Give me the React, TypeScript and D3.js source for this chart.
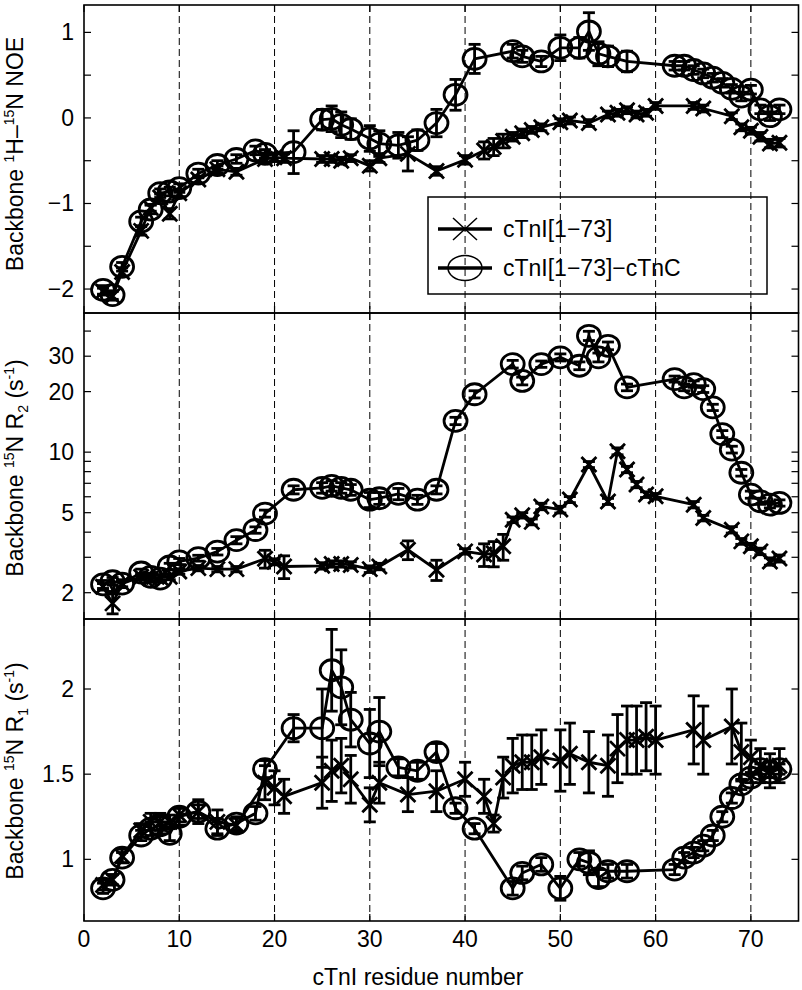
import React from 'react';
import * as d3 from 'd3';

// ---------- data ----------
const freeRes = [2,3,4,6,7,8,9,10,12,14,16,19,20,21,25,26,27,28,30,31,34,37,40,42,43,44,45,46,47,48,50,51,53,55,56,57,58,59,60,64,65,68,69,70,71,72,73];
const freeNOE = [-2.03,-2.08,-1.80,-1.32,-1.05,-0.93,-1.12,-0.88,-0.72,-0.60,-0.63,-0.48,-0.46,-0.47,-0.48,-0.48,-0.50,-0.47,-0.56,-0.47,-0.42,-0.62,-0.49,-0.38,-0.34,-0.27,-0.22,-0.18,-0.14,-0.11,-0.05,-0.03,-0.06,0.04,0.06,0.09,0.04,0.06,0.14,0.14,0.11,0.02,-0.11,-0.15,-0.22,-0.30,-0.29];
const freeNOEErr = [0.04,0.05,0.05,0.05,0.04,0.04,0.06,0.04,0.04,0.04,0.04,0.05,0.05,0.05,0.04,0.04,0.04,0.04,0.06,0.05,0.2,0.05,0.05,0.1,0.1,0.08,0.05,0.05,0.04,0.04,0.04,0.04,0.04,0.04,0.04,0.04,0.04,0.04,0.04,0.04,0.04,0.04,0.04,0.04,0.05,0.05,0.05];
const freeR2 = [2.14,1.77,2.22,2.40,2.35,2.38,2.40,2.55,2.65,2.62,2.62,2.95,2.85,2.70,2.72,2.78,2.78,2.75,2.62,2.70,3.27,2.60,3.21,3.10,3.14,3.40,4.61,4.85,4.50,5.37,5.18,5.81,8.68,5.69,10.1,8.2,6.9,6.15,6.03,5.48,4.70,4.11,3.60,3.40,3.21,2.86,2.96];
const freeR2Err = [0.08,0.2,0.08,0.08,0.08,0.08,0.08,0.08,0.08,0.08,0.08,0.3,0.1,0.35,0.1,0.1,0.1,0.1,0.1,0.1,0.35,0.3,0.1,0.4,0.45,0.5,0.15,0.15,0.15,0.2,0.2,0.2,0.3,0.2,0.4,0.3,0.25,0.2,0.2,0.2,0.15,0.15,0.12,0.12,0.12,0.12,0.12];
const freeR1 = [0.85,0.88,1.02,1.17,1.22,1.22,1.22,1.26,1.28,1.22,1.20,1.45,1.42,1.37,1.45,1.52,1.55,1.47,1.32,1.45,1.38,1.40,1.47,1.37,1.21,1.48,1.55,1.57,1.57,1.60,1.58,1.62,1.57,1.55,1.65,1.70,1.70,1.72,1.70,1.76,1.70,1.78,1.63,1.60,1.55,1.52,1.55];
const freeR1Err = [0.03,0.03,0.04,0.04,0.05,0.05,0.04,0.04,0.07,0.07,0.04,0.1,0.1,0.1,0.15,0.18,0.16,0.14,0.1,0.12,0.1,0.12,0.1,0.1,0.05,0.12,0.16,0.16,0.16,0.16,0.18,0.18,0.18,0.18,0.2,0.2,0.2,0.2,0.2,0.2,0.2,0.22,0.17,0.1,0.1,0.1,0.1];

const compRes = [2,3,4,6,7,8,9,10,12,14,16,18,19,22,25,26,27,28,30,31,33,35,37,39,41,45,46,48,50,52,53,54,55,57,62,63,64,65,66,67,68,69,70,71,72,73];
const compNOE = [-2.01,-2.07,-1.74,-1.21,-1.07,-0.88,-0.86,-0.82,-0.65,-0.55,-0.48,-0.38,-0.42,-0.40,-0.02,-0.01,-0.08,-0.13,-0.24,-0.30,-0.32,-0.26,-0.06,0.27,0.69,0.78,0.72,0.66,0.82,0.82,1.01,0.75,0.72,0.66,0.61,0.61,0.56,0.52,0.47,0.41,0.34,0.25,0.33,0.10,0.02,0.10];
const compNOEErr = [0.05,0.05,0.05,0.05,0.05,0.05,0.05,0.05,0.05,0.05,0.05,0.05,0.05,0.25,0.12,0.15,0.15,0.12,0.15,0.15,0.15,0.12,0.16,0.18,0.17,0.08,0.07,0.06,0.15,0.12,0.22,0.14,0.12,0.12,0.05,0.05,0.05,0.05,0.05,0.05,0.05,0.05,0.05,0.05,0.05,0.05];
const compR2 = [2.20,2.28,2.22,2.52,2.40,2.35,2.70,2.86,2.97,3.20,3.65,4.10,4.95,6.50,6.65,6.80,6.65,6.50,5.80,5.90,6.20,5.80,6.50,14.3,19.4,27.4,22.6,27.4,29.6,26.9,37.9,29.6,33.8,21.0,23.1,21.0,21.8,20.6,16.7,12.3,10.3,7.9,6.15,5.7,5.48,5.59];
const compR2Err = [0.1,0.1,0.1,0.1,0.1,0.1,0.1,0.1,0.1,0.12,0.15,0.15,0.2,0.3,0.4,0.4,0.4,0.4,0.5,0.4,0.4,0.3,0.3,0.6,0.8,1.2,1.0,1.0,1.2,1.2,2.0,1.5,1.5,0.8,0.8,0.8,0.8,0.8,0.6,0.5,0.4,0.3,0.25,0.2,0.2,0.2];
const compR1 = [0.83,0.88,1.01,1.14,1.18,1.20,1.15,1.25,1.28,1.18,1.21,1.27,1.53,1.77,1.77,2.11,2.01,1.82,1.68,1.75,1.54,1.52,1.63,1.30,1.18,0.83,0.92,0.97,0.83,1.00,0.98,0.89,0.93,0.93,0.94,1.01,1.04,1.08,1.14,1.25,1.36,1.44,1.48,1.53,1.51,1.53];
const compR1Err = [0.03,0.03,0.03,0.03,0.04,0.05,0.04,0.05,0.04,0.04,0.04,0.04,0.05,0.08,0.23,0.24,0.22,0.16,0.2,0.2,0.05,0.05,0.05,0.03,0.03,0.04,0.04,0.04,0.07,0.04,0.07,0.05,0.04,0.04,0.03,0.03,0.03,0.03,0.03,0.03,0.03,0.03,0.03,0.03,0.03,0.03];

const xTicks = [0, 10, 20, 30, 40, 50, 60, 70];
const gridX = [10, 20, 30, 40, 50, 60, 70];
const noeTicks = [-2, -1.5, -1, -0.5, 0, 0.5, 1];
const noeLabels = [-2, -1, 0, 1];
const r2Ticks = [2, 3, 4, 5, 6, 7, 8, 9, 10, 20, 30, 40];
const r2Labels = [2, 5, 10, 20, 30];
const r1Ticks = [1, 1.5, 2];
const r1Labels = [1, 1.5, 2];
const legendLabels = ['cTnI[1\u221273]', 'cTnI[1\u221273]\u2212cTnC'];

const FONT = '"Liberation Sans", Arial, Helvetica, sans-serif';
const X0 = 84, X1 = 798.5;

const fmt = (v: number) => String(v).replace('-', '\u2212');

type PanelProps = {
  top: number; bottom: number;
  y: any; ticks: number[]; labels: number[];
  fv: number[]; fe: number[]; cv: number[]; ce: number[];
  showX: boolean;
};

function Panel({ top, bottom, y, ticks, labels, fv, fe, cv, ce, showX }: PanelProps) {
  const x = d3.scaleLinear().domain([0, 75]).range([X0, X1]);
  const lw = 2.8;
  const line = d3.line<[number, number]>().x(d => x(d[0])).y(d => y(d[1]));
  const freePts: [number, number][] = freeRes.map((r, i) => [r, fv[i]]);
  const compPts: [number, number][] = compRes.map((r, i) => [r, cv[i]]);
  const cap = 6, mk = 7.5;
  const errBars = (res: number[], v: number[], e: number[], key: string) =>
    res.map((r, i) => {
      const cx = x(r), y1 = y(v[i] + e[i]), y2 = y(v[i] - e[i]);
      return (
        <g key={key + i}>
          <line x1={cx} x2={cx} y1={y1} y2={y2} />
          <line x1={cx - cap} x2={cx + cap} y1={y1} y2={y1} />
          <line x1={cx - cap} x2={cx + cap} y1={y2} y2={y2} />
        </g>
      );
    });
  return (
    <g>
      <g stroke="#000" strokeWidth={1} strokeDasharray="7,4">
        {gridX.map(g => <line key={g} x1={x(g)} x2={x(g)} y1={top} y2={bottom} />)}
      </g>
      <g stroke="#000" strokeWidth={lw} fill="none" strokeLinejoin="round">
        <path d={line(freePts) || ''} />
        {errBars(freeRes, fv, fe, 'fe')}
        {freePts.map((p, i) => (
          <path key={'fx' + i}
            d={`M${x(p[0]) - mk},${y(p[1]) - mk}L${x(p[0]) + mk},${y(p[1]) + mk}M${x(p[0]) - mk},${y(p[1]) + mk}L${x(p[0]) + mk},${y(p[1]) - mk}`} />
        ))}
        <path d={line(compPts) || ''} />
        {errBars(compRes, cv, ce, 'ce')}
        {compPts.map((p, i) => (
          <ellipse key={'co' + i} cx={x(p[0])} cy={y(p[1])} rx={11.5} ry={10.5} />
        ))}
      </g>
      <rect x={X0} y={top} width={X1 - X0} height={bottom - top} fill="none" stroke="#000" strokeWidth={1.6} />
      <g stroke="#000" strokeWidth={1.2}>
        {xTicks.map(t => (
          <g key={'xt' + t}>
            <line x1={x(t)} x2={x(t)} y1={bottom} y2={bottom - 7} />
            <line x1={x(t)} x2={x(t)} y1={top} y2={top + 7} />
          </g>
        ))}
        {ticks.map(t => (
          <g key={'yt' + t}>
            <line x1={X0} x2={X0 + 7} y1={y(t)} y2={y(t)} />
            <line x1={X1} x2={X1 - 7} y1={y(t)} y2={y(t)} />
          </g>
        ))}
      </g>
      <g fontFamily={FONT} fontSize={23} fill="#000">
        {labels.map(t => (
          <text key={'yl' + t} x={74} y={y(t)} textAnchor="end" dominantBaseline="central">{fmt(t)}</text>
        ))}
        {showX && xTicks.map(t => (
          <text key={'xl' + t} x={x(t)} y={947} textAnchor="middle">{t}</text>
        ))}
      </g>
    </g>
  );
}

function YLabel({ yc, parts }: { yc: number; parts: [string, number][] }) {
  let prev = 0;
  return (
    <text transform={`translate(23,${yc}) rotate(-90)`} textAnchor="middle" fontFamily={FONT} fontSize={23} fill="#000">
      {parts.map(([t, s], i) => {
        const target = s === -1 ? -9 : s === 1 ? 5 : 0;
        const dy = target - prev;
        prev = target;
        return <tspan key={i} dy={dy} fontSize={s === 0 ? 23 : 14}>{t}</tspan>;
      })}
    </text>
  );
}

export default function App() {
  const yNOE = d3.scaleLinear().domain([-2.28, 1.32]).range([313, 5]);
  const yR2 = d3.scaleLog().domain([1.48, 49.2]).range([619, 313]);
  const yR1 = d3.scaleLinear().domain([0.638, 2.411]).range([921, 619]);
  const lx = 465;
  return (
    <svg width={802} height={990} style={{ position: 'absolute', left: 0, top: 0, background: '#fff' }}>
      <rect x={0} y={0} width={802} height={990} fill="#fff" />
      <Panel top={5} bottom={313} y={yNOE} ticks={noeTicks} labels={noeLabels}
        fv={freeNOE} fe={freeNOEErr} cv={compNOE} ce={compNOEErr} showX={false} />
      <Panel top={313} bottom={619} y={yR2} ticks={r2Ticks} labels={r2Labels}
        fv={freeR2} fe={freeR2Err} cv={compR2} ce={compR2Err} showX={false} />
      <Panel top={619} bottom={921} y={yR1} ticks={r1Ticks} labels={r1Labels}
        fv={freeR1} fe={freeR1Err} cv={compR1} ce={compR1Err} showX={true} />

      <g>
        <rect x={428} y={197} width={339} height={97} fill="none" stroke="#000" strokeWidth={1.5} />
        <line x1={438} x2={492} y1={229} y2={229} stroke="#000" strokeWidth={3.5} />
        <path d={`M${lx - 12},${229 - 11}L${lx + 12},${229 + 11}M${lx - 12},${229 + 11}L${lx + 12},${229 - 11}`} stroke="#000" strokeWidth={1.5} />
        <line x1={438} x2={492} y1={268} y2={268} stroke="#000" strokeWidth={3.5} />
        <ellipse cx={lx} cy={268} rx={17} ry={12.5} fill="none" stroke="#000" strokeWidth={1.5} />
        <text x={503} y={229} dominantBaseline="central" fontFamily={FONT} fontSize={23}>{legendLabels[0]}</text>
        <text x={503} y={268} dominantBaseline="central" fontFamily={FONT} fontSize={23}>{legendLabels[1]}</text>
      </g>

      <YLabel yc={154} parts={[['Backbone ', 0], ['1', -1], ['H\u2013', 0], ['15', -1], ['N NOE', 0]]} />
      <YLabel yc={468} parts={[['Backbone ', 0], ['15', -1], ['N R', 0], ['2', 1], [' (s', 0], ['-1', -1], [')', 0]]} />
      <YLabel yc={771} parts={[['Backbone ', 0], ['15', -1], ['N R', 0], ['1', 1], [' (s', 0], ['-1', -1], [')', 0]]} />

      <text x={418} y={985} textAnchor="middle" fontFamily={FONT} fontSize={23}>cTnI residue number</text>
    </svg>
  );
}
